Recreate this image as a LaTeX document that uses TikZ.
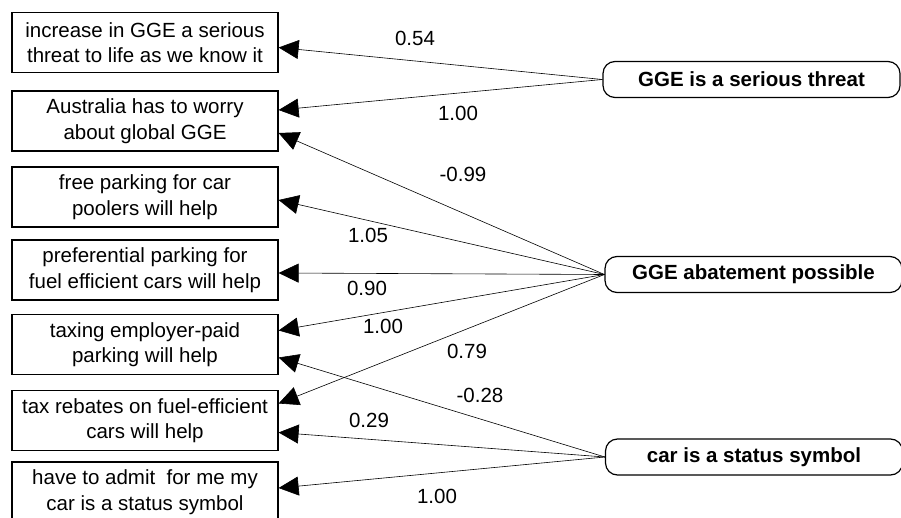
\documentclass[tikz,border=0pt]{standalone}
\usepackage{fontspec}
\setmainfont{Liberation Sans}
\usetikzlibrary{arrows.meta}
\tikzset{%
  item/.style={draw,line width=1.2pt,minimum width=266pt,minimum height=60pt,
    align=center,inner sep=0pt,font=\fontsize{20.5}{25.5}\selectfont},
  factor/.style={draw,line width=1.2pt,rounded corners=12pt,minimum width=297pt,
    minimum height=36pt,inner sep=0pt,font=\bfseries\fontsize{20.5}{24}\selectfont},
  load/.style={-{Triangle[length=20pt,width=19pt]},line width=0.6pt},
  wt/.style={inner sep=0pt,font=\fontsize{20.5}{24}\selectfont}
}

\begin{document}
\begin{tikzpicture}[x=1pt,y=-1pt]
  \useasboundingbox (0,0) rectangle (901,518);
  %
  \node[item] (i1) at (145,42.5) {increase in GGE a serious\\threat to life as we know it};
  \node[item] (i2) at (145,121) {Australia has to worry\\about global GGE};
  \node[item] (i3) at (145,197) {free parking for car\\poolers will help};
  \node[item] (i4) at (145,270) {preferential parking for\\fuel efficient cars will help};
  \node[item] (i5) at (145,344.5) {taxing employer-paid\\parking will help};
  \node[item] (i6) at (145,420.5) {tax rebates on fuel-efficient\\cars will help};
  \node[item] (i7) at (145,492) {have to admit\ \ for me my\\car is a status symbol};
  %
  \node[factor] (f1) at (751.5,79.5) {GGE is a serious threat};
  \node[factor] (f2) at (753.5,274.5) {GGE abatement possible};
  \node[factor] (f3) at (754,457) {car is a status symbol};
  %%% Loadings
  \draw[load] (f1.west) -- ([yshift=-5pt]i1.east);
  \draw[load] (f1.west) -- ([yshift=11pt]i2.east);
  \draw[load] (f2.west) -- ([yshift=-12pt]i2.east);
  \draw[load] (f2.west) -- ([yshift=-3pt]i3.east);
  \draw[load] (f2.west) -- ([yshift=-3pt]i4.east);
  \draw[load] (f2.west) -- ([yshift=14pt]i5.east);
  \draw[load] (f2.west) -- ([yshift=17pt]i6.east);
  \draw[load] (f3.west) -- ([yshift=-13pt]i5.east);
  \draw[load] (f3.west) -- ([yshift=-12pt]i6.east);
  \draw[load] (f3.west) -- ([yshift=4pt]i7.east);
  %% Values
  \node[wt] (w1) at (415,38) {0.54};
  \node[wt] (w2) at (458,113) {1.00};
  \node[wt] (w3) at (463,174) {-0.99};
  \node[wt] (w4) at (368,235) {1.05};
  \node[wt] (w5) at (367,288) {0.90};
  \node[wt] (w6) at (383,326) {1.00};
  \node[wt] (w7) at (467,351) {0.79};
  \node[wt] (w8) at (480,395) {-0.28};
  \node[wt] (w9) at (369,420) {0.29};
  \node[wt] (w10) at (437,496) {1.00};
  %%
\end{tikzpicture}
\end{document}
